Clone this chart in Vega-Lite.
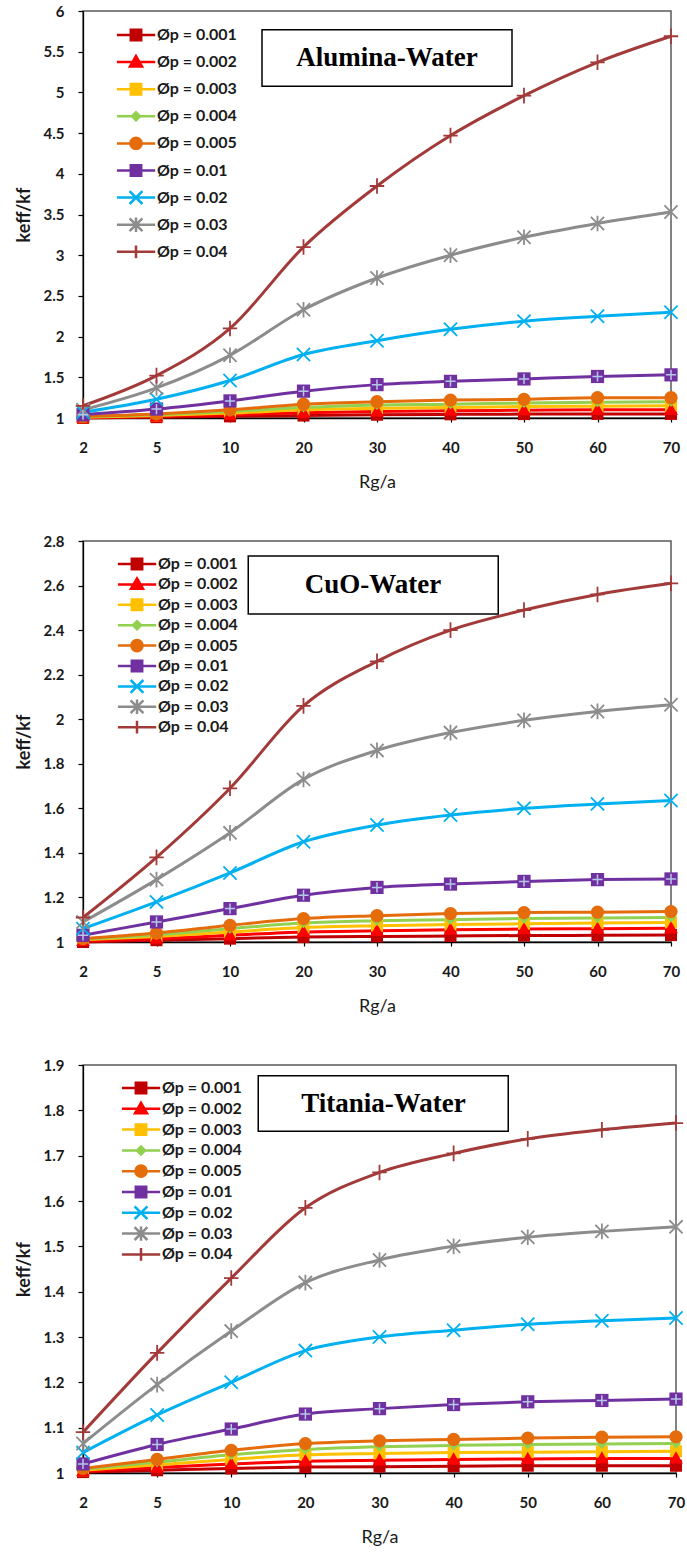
{
"$schema": "https://vega.github.io/schema/vega-lite/v6.json",
"background": "white",
"padding": {"left": 14, "top": 3, "right": 2, "bottom": 4},
"spacing": 123,
"bounds": "flush",
"datasets": {
"kr": [
{"f":"Alumina-Water","p":"0.001","r":2,"k":1.000},{"f":"Alumina-Water","p":"0.001","r":5,"k":1.010},{"f":"Alumina-Water","p":"0.001","r":10,"k":1.020},{"f":"Alumina-Water","p":"0.001","r":20,"k":1.030},{"f":"Alumina-Water","p":"0.001","r":30,"k":1.040},{"f":"Alumina-Water","p":"0.001","r":40,"k":1.045},{"f":"Alumina-Water","p":"0.001","r":50,"k":1.048},{"f":"Alumina-Water","p":"0.001","r":60,"k":1.050},{"f":"Alumina-Water","p":"0.001","r":70,"k":1.050},
{"f":"Alumina-Water","p":"0.002","r":2,"k":1.005},{"f":"Alumina-Water","p":"0.002","r":5,"k":1.020},{"f":"Alumina-Water","p":"0.002","r":10,"k":1.040},{"f":"Alumina-Water","p":"0.002","r":20,"k":1.065},{"f":"Alumina-Water","p":"0.002","r":30,"k":1.080},{"f":"Alumina-Water","p":"0.002","r":40,"k":1.090},{"f":"Alumina-Water","p":"0.002","r":50,"k":1.095},{"f":"Alumina-Water","p":"0.002","r":60,"k":1.100},{"f":"Alumina-Water","p":"0.002","r":70,"k":1.100},
{"f":"Alumina-Water","p":"0.003","r":2,"k":1.010},{"f":"Alumina-Water","p":"0.003","r":5,"k":1.030},{"f":"Alumina-Water","p":"0.003","r":10,"k":1.060},{"f":"Alumina-Water","p":"0.003","r":20,"k":1.100},{"f":"Alumina-Water","p":"0.003","r":30,"k":1.120},{"f":"Alumina-Water","p":"0.003","r":40,"k":1.130},{"f":"Alumina-Water","p":"0.003","r":50,"k":1.140},{"f":"Alumina-Water","p":"0.003","r":60,"k":1.145},{"f":"Alumina-Water","p":"0.003","r":70,"k":1.150},
{"f":"Alumina-Water","p":"0.004","r":2,"k":1.015},{"f":"Alumina-Water","p":"0.004","r":5,"k":1.040},{"f":"Alumina-Water","p":"0.004","r":10,"k":1.080},{"f":"Alumina-Water","p":"0.004","r":20,"k":1.130},{"f":"Alumina-Water","p":"0.004","r":30,"k":1.160},{"f":"Alumina-Water","p":"0.004","r":40,"k":1.170},{"f":"Alumina-Water","p":"0.004","r":50,"k":1.185},{"f":"Alumina-Water","p":"0.004","r":60,"k":1.195},{"f":"Alumina-Water","p":"0.004","r":70,"k":1.200},
{"f":"Alumina-Water","p":"0.005","r":2,"k":1.020},{"f":"Alumina-Water","p":"0.005","r":5,"k":1.050},{"f":"Alumina-Water","p":"0.005","r":10,"k":1.100},{"f":"Alumina-Water","p":"0.005","r":20,"k":1.170},{"f":"Alumina-Water","p":"0.005","r":30,"k":1.200},{"f":"Alumina-Water","p":"0.005","r":40,"k":1.220},{"f":"Alumina-Water","p":"0.005","r":50,"k":1.230},{"f":"Alumina-Water","p":"0.005","r":60,"k":1.250},{"f":"Alumina-Water","p":"0.005","r":70,"k":1.250},
{"f":"Alumina-Water","p":"0.01","r":2,"k":1.040},{"f":"Alumina-Water","p":"0.01","r":5,"k":1.110},{"f":"Alumina-Water","p":"0.01","r":10,"k":1.210},{"f":"Alumina-Water","p":"0.01","r":20,"k":1.330},{"f":"Alumina-Water","p":"0.01","r":30,"k":1.410},{"f":"Alumina-Water","p":"0.01","r":40,"k":1.450},{"f":"Alumina-Water","p":"0.01","r":50,"k":1.480},{"f":"Alumina-Water","p":"0.01","r":60,"k":1.510},{"f":"Alumina-Water","p":"0.01","r":70,"k":1.530},
{"f":"Alumina-Water","p":"0.02","r":2,"k":1.070},{"f":"Alumina-Water","p":"0.02","r":5,"k":1.230},{"f":"Alumina-Water","p":"0.02","r":10,"k":1.460},{"f":"Alumina-Water","p":"0.02","r":20,"k":1.780},{"f":"Alumina-Water","p":"0.02","r":30,"k":1.950},{"f":"Alumina-Water","p":"0.02","r":40,"k":2.090},{"f":"Alumina-Water","p":"0.02","r":50,"k":2.190},{"f":"Alumina-Water","p":"0.02","r":60,"k":2.250},{"f":"Alumina-Water","p":"0.02","r":70,"k":2.300},
{"f":"Alumina-Water","p":"0.03","r":2,"k":1.100},{"f":"Alumina-Water","p":"0.03","r":5,"k":1.370},{"f":"Alumina-Water","p":"0.03","r":10,"k":1.770},{"f":"Alumina-Water","p":"0.03","r":20,"k":2.330},{"f":"Alumina-Water","p":"0.03","r":30,"k":2.720},{"f":"Alumina-Water","p":"0.03","r":40,"k":3.000},{"f":"Alumina-Water","p":"0.03","r":50,"k":3.220},{"f":"Alumina-Water","p":"0.03","r":60,"k":3.390},{"f":"Alumina-Water","p":"0.03","r":70,"k":3.530},
{"f":"Alumina-Water","p":"0.04","r":2,"k":1.150},{"f":"Alumina-Water","p":"0.04","r":5,"k":1.520},{"f":"Alumina-Water","p":"0.04","r":10,"k":2.100},{"f":"Alumina-Water","p":"0.04","r":20,"k":3.100},{"f":"Alumina-Water","p":"0.04","r":30,"k":3.850},{"f":"Alumina-Water","p":"0.04","r":40,"k":4.470},{"f":"Alumina-Water","p":"0.04","r":50,"k":4.960},{"f":"Alumina-Water","p":"0.04","r":60,"k":5.370},{"f":"Alumina-Water","p":"0.04","r":70,"k":5.690},
{"f":"CuO-Water","p":"0.001","r":2,"k":1.000},{"f":"CuO-Water","p":"0.001","r":5,"k":1.008},{"f":"CuO-Water","p":"0.001","r":10,"k":1.015},{"f":"CuO-Water","p":"0.001","r":20,"k":1.022},{"f":"CuO-Water","p":"0.001","r":30,"k":1.025},{"f":"CuO-Water","p":"0.001","r":40,"k":1.027},{"f":"CuO-Water","p":"0.001","r":50,"k":1.029},{"f":"CuO-Water","p":"0.001","r":60,"k":1.030},{"f":"CuO-Water","p":"0.001","r":70,"k":1.031},
{"f":"CuO-Water","p":"0.002","r":2,"k":1.005},{"f":"CuO-Water","p":"0.002","r":5,"k":1.015},{"f":"CuO-Water","p":"0.002","r":10,"k":1.030},{"f":"CuO-Water","p":"0.002","r":20,"k":1.045},{"f":"CuO-Water","p":"0.002","r":30,"k":1.050},{"f":"CuO-Water","p":"0.002","r":40,"k":1.055},{"f":"CuO-Water","p":"0.002","r":50,"k":1.058},{"f":"CuO-Water","p":"0.002","r":60,"k":1.060},{"f":"CuO-Water","p":"0.002","r":70,"k":1.062},
{"f":"CuO-Water","p":"0.003","r":2,"k":1.010},{"f":"CuO-Water","p":"0.003","r":5,"k":1.025},{"f":"CuO-Water","p":"0.003","r":10,"k":1.045},{"f":"CuO-Water","p":"0.003","r":20,"k":1.065},{"f":"CuO-Water","p":"0.003","r":30,"k":1.073},{"f":"CuO-Water","p":"0.003","r":40,"k":1.078},{"f":"CuO-Water","p":"0.003","r":50,"k":1.082},{"f":"CuO-Water","p":"0.003","r":60,"k":1.085},{"f":"CuO-Water","p":"0.003","r":70,"k":1.088},
{"f":"CuO-Water","p":"0.004","r":2,"k":1.012},{"f":"CuO-Water","p":"0.004","r":5,"k":1.032},{"f":"CuO-Water","p":"0.004","r":10,"k":1.060},{"f":"CuO-Water","p":"0.004","r":20,"k":1.085},{"f":"CuO-Water","p":"0.004","r":30,"k":1.095},{"f":"CuO-Water","p":"0.004","r":40,"k":1.100},{"f":"CuO-Water","p":"0.004","r":50,"k":1.105},{"f":"CuO-Water","p":"0.004","r":60,"k":1.108},{"f":"CuO-Water","p":"0.004","r":70,"k":1.110},
{"f":"CuO-Water","p":"0.005","r":2,"k":1.015},{"f":"CuO-Water","p":"0.005","r":5,"k":1.040},{"f":"CuO-Water","p":"0.005","r":10,"k":1.075},{"f":"CuO-Water","p":"0.005","r":20,"k":1.105},{"f":"CuO-Water","p":"0.005","r":30,"k":1.118},{"f":"CuO-Water","p":"0.005","r":40,"k":1.128},{"f":"CuO-Water","p":"0.005","r":50,"k":1.132},{"f":"CuO-Water","p":"0.005","r":60,"k":1.134},{"f":"CuO-Water","p":"0.005","r":70,"k":1.137},
{"f":"CuO-Water","p":"0.01","r":2,"k":1.030},{"f":"CuO-Water","p":"0.01","r":5,"k":1.090},{"f":"CuO-Water","p":"0.01","r":10,"k":1.150},{"f":"CuO-Water","p":"0.01","r":20,"k":1.210},{"f":"CuO-Water","p":"0.01","r":30,"k":1.245},{"f":"CuO-Water","p":"0.01","r":40,"k":1.260},{"f":"CuO-Water","p":"0.01","r":50,"k":1.272},{"f":"CuO-Water","p":"0.01","r":60,"k":1.280},{"f":"CuO-Water","p":"0.01","r":70,"k":1.283},
{"f":"CuO-Water","p":"0.02","r":2,"k":1.060},{"f":"CuO-Water","p":"0.02","r":5,"k":1.180},{"f":"CuO-Water","p":"0.02","r":10,"k":1.310},{"f":"CuO-Water","p":"0.02","r":20,"k":1.450},{"f":"CuO-Water","p":"0.02","r":30,"k":1.525},{"f":"CuO-Water","p":"0.02","r":40,"k":1.570},{"f":"CuO-Water","p":"0.02","r":50,"k":1.600},{"f":"CuO-Water","p":"0.02","r":60,"k":1.620},{"f":"CuO-Water","p":"0.02","r":70,"k":1.635},
{"f":"CuO-Water","p":"0.03","r":2,"k":1.090},{"f":"CuO-Water","p":"0.03","r":5,"k":1.280},{"f":"CuO-Water","p":"0.03","r":10,"k":1.490},{"f":"CuO-Water","p":"0.03","r":20,"k":1.730},{"f":"CuO-Water","p":"0.03","r":30,"k":1.860},{"f":"CuO-Water","p":"0.03","r":40,"k":1.940},{"f":"CuO-Water","p":"0.03","r":50,"k":1.995},{"f":"CuO-Water","p":"0.03","r":60,"k":2.035},{"f":"CuO-Water","p":"0.03","r":70,"k":2.065},
{"f":"CuO-Water","p":"0.04","r":2,"k":1.110},{"f":"CuO-Water","p":"0.04","r":5,"k":1.380},{"f":"CuO-Water","p":"0.04","r":10,"k":1.690},{"f":"CuO-Water","p":"0.04","r":20,"k":2.060},{"f":"CuO-Water","p":"0.04","r":30,"k":2.260},{"f":"CuO-Water","p":"0.04","r":40,"k":2.400},{"f":"CuO-Water","p":"0.04","r":50,"k":2.490},{"f":"CuO-Water","p":"0.04","r":60,"k":2.560},{"f":"CuO-Water","p":"0.04","r":70,"k":2.610},
{"f":"Titania-Water","p":"0.001","r":2,"k":1.002},{"f":"Titania-Water","p":"0.001","r":5,"k":1.006},{"f":"Titania-Water","p":"0.001","r":10,"k":1.010},{"f":"Titania-Water","p":"0.001","r":20,"k":1.013},{"f":"Titania-Water","p":"0.001","r":30,"k":1.014},{"f":"Titania-Water","p":"0.001","r":40,"k":1.015},{"f":"Titania-Water","p":"0.001","r":50,"k":1.016},{"f":"Titania-Water","p":"0.001","r":60,"k":1.016},{"f":"Titania-Water","p":"0.001","r":70,"k":1.016},
{"f":"Titania-Water","p":"0.002","r":2,"k":1.004},{"f":"Titania-Water","p":"0.002","r":5,"k":1.012},{"f":"Titania-Water","p":"0.002","r":10,"k":1.020},{"f":"Titania-Water","p":"0.002","r":20,"k":1.026},{"f":"Titania-Water","p":"0.002","r":30,"k":1.028},{"f":"Titania-Water","p":"0.002","r":40,"k":1.030},{"f":"Titania-Water","p":"0.002","r":50,"k":1.031},{"f":"Titania-Water","p":"0.002","r":60,"k":1.032},{"f":"Titania-Water","p":"0.002","r":70,"k":1.032},
{"f":"Titania-Water","p":"0.003","r":2,"k":1.006},{"f":"Titania-Water","p":"0.003","r":5,"k":1.018},{"f":"Titania-Water","p":"0.003","r":10,"k":1.030},{"f":"Titania-Water","p":"0.003","r":20,"k":1.040},{"f":"Titania-Water","p":"0.003","r":30,"k":1.043},{"f":"Titania-Water","p":"0.003","r":40,"k":1.045},{"f":"Titania-Water","p":"0.003","r":50,"k":1.046},{"f":"Titania-Water","p":"0.003","r":60,"k":1.047},{"f":"Titania-Water","p":"0.003","r":70,"k":1.048},
{"f":"Titania-Water","p":"0.004","r":2,"k":1.008},{"f":"Titania-Water","p":"0.004","r":5,"k":1.024},{"f":"Titania-Water","p":"0.004","r":10,"k":1.040},{"f":"Titania-Water","p":"0.004","r":20,"k":1.052},{"f":"Titania-Water","p":"0.004","r":30,"k":1.058},{"f":"Titania-Water","p":"0.004","r":40,"k":1.061},{"f":"Titania-Water","p":"0.004","r":50,"k":1.063},{"f":"Titania-Water","p":"0.004","r":60,"k":1.064},{"f":"Titania-Water","p":"0.004","r":70,"k":1.065},
{"f":"Titania-Water","p":"0.005","r":2,"k":1.010},{"f":"Titania-Water","p":"0.005","r":5,"k":1.030},{"f":"Titania-Water","p":"0.005","r":10,"k":1.050},{"f":"Titania-Water","p":"0.005","r":20,"k":1.065},{"f":"Titania-Water","p":"0.005","r":30,"k":1.071},{"f":"Titania-Water","p":"0.005","r":40,"k":1.074},{"f":"Titania-Water","p":"0.005","r":50,"k":1.077},{"f":"Titania-Water","p":"0.005","r":60,"k":1.079},{"f":"Titania-Water","p":"0.005","r":70,"k":1.080},
{"f":"Titania-Water","p":"0.01","r":2,"k":1.020},{"f":"Titania-Water","p":"0.01","r":5,"k":1.063},{"f":"Titania-Water","p":"0.01","r":10,"k":1.097},{"f":"Titania-Water","p":"0.01","r":20,"k":1.130},{"f":"Titania-Water","p":"0.01","r":30,"k":1.142},{"f":"Titania-Water","p":"0.01","r":40,"k":1.151},{"f":"Titania-Water","p":"0.01","r":50,"k":1.157},{"f":"Titania-Water","p":"0.01","r":60,"k":1.160},{"f":"Titania-Water","p":"0.01","r":70,"k":1.163},
{"f":"Titania-Water","p":"0.02","r":2,"k":1.045},{"f":"Titania-Water","p":"0.02","r":5,"k":1.128},{"f":"Titania-Water","p":"0.02","r":10,"k":1.200},{"f":"Titania-Water","p":"0.02","r":20,"k":1.270},{"f":"Titania-Water","p":"0.02","r":30,"k":1.300},{"f":"Titania-Water","p":"0.02","r":40,"k":1.315},{"f":"Titania-Water","p":"0.02","r":50,"k":1.328},{"f":"Titania-Water","p":"0.02","r":60,"k":1.336},{"f":"Titania-Water","p":"0.02","r":70,"k":1.342},
{"f":"Titania-Water","p":"0.03","r":2,"k":1.065},{"f":"Titania-Water","p":"0.03","r":5,"k":1.195},{"f":"Titania-Water","p":"0.03","r":10,"k":1.313},{"f":"Titania-Water","p":"0.03","r":20,"k":1.420},{"f":"Titania-Water","p":"0.03","r":30,"k":1.470},{"f":"Titania-Water","p":"0.03","r":40,"k":1.500},{"f":"Titania-Water","p":"0.03","r":50,"k":1.520},{"f":"Titania-Water","p":"0.03","r":60,"k":1.533},{"f":"Titania-Water","p":"0.03","r":70,"k":1.543},
{"f":"Titania-Water","p":"0.04","r":2,"k":1.090},{"f":"Titania-Water","p":"0.04","r":5,"k":1.265},{"f":"Titania-Water","p":"0.04","r":10,"k":1.430},{"f":"Titania-Water","p":"0.04","r":20,"k":1.585},{"f":"Titania-Water","p":"0.04","r":30,"k":1.663},{"f":"Titania-Water","p":"0.04","r":40,"k":1.705},{"f":"Titania-Water","p":"0.04","r":50,"k":1.737},{"f":"Titania-Water","p":"0.04","r":60,"k":1.757},{"f":"Titania-Water","p":"0.04","r":70,"k":1.772}
],
"boxes": [
{"f":"Alumina-Water","r":30,"k":5.422},
{"f":"CuO-Water","r":30,"k":2.602},
{"f":"Titania-Water","r":30,"k":1.815}
]
},
"resolve": {"scale": {"color": "independent", "x": "independent", "y": "independent"}, "legend": {"color": "independent"}},
"vconcat": [
{
"width": 588, "height": 407,
"encoding": {
"x": {"field": "r", "type": "ordinal", "scale": {"type": "point", "padding": 0, "domain": [2,5,10,20,30,40,50,60,70]}, "axis": {"title": "Rg/a"}},
"y": {"field": "k", "type": "quantitative", "scale": {"domain": [1,6], "nice": false, "zero": false}, "axis": {"values": [1,1.5,2,2.5,3,3.5,4,4.5,5,5.5,6], "format": "~g", "title": "keff/kf"}}
},
"layer": [
{"data": {"name": "kr"}, "transform": [{"filter": "datum.f == 'Alumina-Water'"}],
 "mark": {"type": "line", "strokeWidth": 3, "interpolate": "monotone"},
 "encoding": {"color": {"field": "p", "type": "nominal", "scale": {"domain": ["0.001","0.002","0.003","0.004","0.005","0.01","0.02","0.03","0.04"], "range": ["#C00000","#FF0000","#FFC000","#92D050","#E46C0A","#7030A0","#00B0F0","#8C8C8C","#A33A3A"]},
  "legend": {"orient": "none", "legendX": 33.5, "legendY": 13, "clipHeight": 22, "rowPadding": 5.1, "symbolOffset": 10, "labelOffset": 11.5, "title": null, "labelExpr": "'Øp = ' + datum.label", "encode": {"symbols": {"update": {
   "shape": {"signal": "['M-2.4,0H2.4M-0.65,-0.65H0.65V0.65H-0.65Z','M-2.4,0H2.4M0,-0.75L0.75,0.55H-0.75Z','M-2.4,0H2.4M-0.65,-0.65H0.65V0.65H-0.65Z','M-2.4,0H2.4M0,-0.5L0.5,0L0,0.5L-0.5,0Z','M-2.4,0H2.4M-0.7,0A0.7,0.7,0,1,0,0.7,0A0.7,0.7,0,1,0,-0.7,0Z','M-2.4,0H2.4M-0.65,-0.65H0.65V0.65H-0.65Z','M-2.4,0H2.4M-0.8,-0.8L0.8,0.8M-0.8,0.8L0.8,-0.8','M-2.4,0H2.4M-0.8,-0.8L0.8,0.8M-0.8,0.8L0.8,-0.8M0,-0.9V0.9','M-2.4,0H2.4M0,-0.8V0.8'][indexof(['0.001','0.002','0.003','0.004','0.005','0.01','0.02','0.03','0.04'], datum.value)]"},
   "fill": {"signal": "['#C00000','#FF0000','#FFC000','#92D050','#E46C0A','#7030A0','#00B0F0','#8C8C8C','#A33A3A'][indexof(['0.001','0.002','0.003','0.004','0.005','0.01','0.02','0.03','0.04'], datum.value)]"},
   "stroke": {"signal": "['#C00000','#FF0000','#FFC000','#92D050','#E46C0A','#7030A0','#00B0F0','#8C8C8C','#A33A3A'][indexof(['0.001','0.002','0.003','0.004','0.005','0.01','0.02','0.03','0.04'], datum.value)]"},
   "strokeWidth": {"value": 2.5}, "opacity": {"value": 1}}}}}}}},
{"data": {"name": "kr"}, "transform": [{"filter": "datum.f == 'Alumina-Water' && (datum.p == '0.001' || datum.p == '0.003')"}],
 "mark": {"type": "point", "filled": true, "opacity": 1, "size": 144, "shape": "M-1,-1H1V1H-1Z"}, "encoding": {"color": {"field": "p", "type": "nominal", "legend": null}}},
{"data": {"name": "kr"}, "transform": [{"filter": "datum.f == 'Alumina-Water' && datum.p == '0.002'"}],
 "mark": {"type": "point", "filled": true, "opacity": 1, "size": 144, "shape": "M0,-1.2L1.15,0.85H-1.15Z"}, "encoding": {"color": {"field": "p", "type": "nominal", "legend": null}}},
{"data": {"name": "kr"}, "transform": [{"filter": "datum.f == 'Alumina-Water' && datum.p == '0.004'"}],
 "mark": {"type": "point", "filled": true, "opacity": 1, "size": 144, "shape": "M0,-0.85L0.85,0L0,0.85L-0.85,0Z"}, "encoding": {"color": {"field": "p", "type": "nominal", "legend": null}}},
{"data": {"name": "kr"}, "transform": [{"filter": "datum.f == 'Alumina-Water' && datum.p == '0.005'"}],
 "mark": {"type": "point", "filled": true, "opacity": 1, "size": 144, "shape": "M-1.1,0A1.1,1.1,0,1,0,1.1,0A1.1,1.1,0,1,0,-1.1,0Z"}, "encoding": {"color": {"field": "p", "type": "nominal", "legend": null}}},
{"data": {"name": "kr"}, "transform": [{"filter": "datum.f == 'Alumina-Water' && datum.p == '0.01'"}],
 "mark": {"type": "point", "filled": true, "opacity": 1, "size": 144, "shape": "M-1.1,-1.1H1.1V1.1H-1.1Z"}, "encoding": {"color": {"field": "p", "type": "nominal", "legend": null}}},
{"data": {"name": "kr"}, "transform": [{"filter": "datum.f == 'Alumina-Water' && datum.p == '0.02'"}],
 "mark": {"type": "point", "filled": false, "opacity": 1, "size": 144, "strokeWidth": 1.8, "shape": "M-1.1,-1.1L1.1,1.1M-1.1,1.1L1.1,-1.1"}, "encoding": {"color": {"field": "p", "type": "nominal", "legend": null}}},
{"data": {"name": "kr"}, "transform": [{"filter": "datum.f == 'Alumina-Water' && datum.p == '0.03'"}],
 "mark": {"type": "point", "filled": false, "opacity": 1, "size": 144, "strokeWidth": 1.8, "shape": "M-1.1,-1.1L1.1,1.1M-1.1,1.1L1.1,-1.1M0,-1.3V1.3"}, "encoding": {"color": {"field": "p", "type": "nominal", "legend": null}}},
{"data": {"name": "kr"}, "transform": [{"filter": "datum.f == 'Alumina-Water' && datum.p == '0.04'"}],
 "mark": {"type": "point", "filled": false, "opacity": 1, "size": 144, "strokeWidth": 1.8, "shape": "M-1.2,0H1.2M0,-1.3V1.3"}, "encoding": {"color": {"field": "p", "type": "nominal", "legend": null}}},
{"data": {"name": "kr"}, "transform": [{"filter": "datum.f == 'Alumina-Water' && datum.p == '0.01'"}],
 "mark": {"type": "point", "filled": false, "opacity": 1, "size": 144, "strokeWidth": 1.5, "color": "#B4C7E7", "shape": "M-0.85,0H0.85M0,-0.85V0.85"}},
{"data": {"name": "boxes"}, "transform": [{"filter": "datum.f == 'Alumina-Water'"}],
 "mark": {"type": "point", "shape": "M-0.92,-0.226H1.08V0.226H-0.92Z", "size": 62500, "filled": true, "fill": "white", "stroke": "black", "strokeWidth": 1.5, "opacity": 1}},
{"data": {"name": "boxes"}, "transform": [{"filter": "datum.f == 'Alumina-Water'"}],
 "mark": {"type": "text", "font": "Liberation Serif", "fontWeight": "bold", "fontSize": 27, "color": "#000000", "dx": 10},
 "encoding": {"text": {"field": "f"}}}
]
},
{
"width": 588, "height": 401,
"encoding": {
"x": {"field": "r", "type": "ordinal", "scale": {"type": "point", "padding": 0, "domain": [2,5,10,20,30,40,50,60,70]}, "axis": {"title": "Rg/a"}},
"y": {"field": "k", "type": "quantitative", "scale": {"domain": [1,2.8], "nice": false, "zero": false}, "axis": {"values": [1,1.2,1.4,1.6,1.8,2,2.2,2.4,2.6,2.8], "format": "~g", "title": "keff/kf"}}
},
"layer": [
{"data": {"name": "kr"}, "transform": [{"filter": "datum.f == 'CuO-Water'"}],
 "mark": {"type": "line", "strokeWidth": 3, "interpolate": "monotone"},
 "encoding": {"color": {"field": "p", "type": "nominal", "scale": {"domain": ["0.001","0.002","0.003","0.004","0.005","0.01","0.02","0.03","0.04"], "range": ["#C00000","#FF0000","#FFC000","#92D050","#E46C0A","#7030A0","#00B0F0","#8C8C8C","#A33A3A"]},
  "legend": {"orient": "none", "legendX": 34.5, "legendY": 13, "clipHeight": 20, "rowPadding": 0.4, "symbolOffset": 10, "labelOffset": 11.5, "title": null, "labelExpr": "'Øp = ' + datum.label", "encode": {"symbols": {"update": {
   "shape": {"signal": "['M-2.4,0H2.4M-0.65,-0.65H0.65V0.65H-0.65Z','M-2.4,0H2.4M0,-0.75L0.75,0.55H-0.75Z','M-2.4,0H2.4M-0.65,-0.65H0.65V0.65H-0.65Z','M-2.4,0H2.4M0,-0.5L0.5,0L0,0.5L-0.5,0Z','M-2.4,0H2.4M-0.7,0A0.7,0.7,0,1,0,0.7,0A0.7,0.7,0,1,0,-0.7,0Z','M-2.4,0H2.4M-0.65,-0.65H0.65V0.65H-0.65Z','M-2.4,0H2.4M-0.8,-0.8L0.8,0.8M-0.8,0.8L0.8,-0.8','M-2.4,0H2.4M-0.8,-0.8L0.8,0.8M-0.8,0.8L0.8,-0.8M0,-0.9V0.9','M-2.4,0H2.4M0,-0.8V0.8'][indexof(['0.001','0.002','0.003','0.004','0.005','0.01','0.02','0.03','0.04'], datum.value)]"},
   "fill": {"signal": "['#C00000','#FF0000','#FFC000','#92D050','#E46C0A','#7030A0','#00B0F0','#8C8C8C','#A33A3A'][indexof(['0.001','0.002','0.003','0.004','0.005','0.01','0.02','0.03','0.04'], datum.value)]"},
   "stroke": {"signal": "['#C00000','#FF0000','#FFC000','#92D050','#E46C0A','#7030A0','#00B0F0','#8C8C8C','#A33A3A'][indexof(['0.001','0.002','0.003','0.004','0.005','0.01','0.02','0.03','0.04'], datum.value)]"},
   "strokeWidth": {"value": 2.5}, "opacity": {"value": 1}}}}}}}},
{"data": {"name": "kr"}, "transform": [{"filter": "datum.f == 'CuO-Water' && (datum.p == '0.001' || datum.p == '0.003')"}],
 "mark": {"type": "point", "filled": true, "opacity": 1, "size": 144, "shape": "M-1,-1H1V1H-1Z"}, "encoding": {"color": {"field": "p", "type": "nominal", "legend": null}}},
{"data": {"name": "kr"}, "transform": [{"filter": "datum.f == 'CuO-Water' && datum.p == '0.002'"}],
 "mark": {"type": "point", "filled": true, "opacity": 1, "size": 144, "shape": "M0,-1.2L1.15,0.85H-1.15Z"}, "encoding": {"color": {"field": "p", "type": "nominal", "legend": null}}},
{"data": {"name": "kr"}, "transform": [{"filter": "datum.f == 'CuO-Water' && datum.p == '0.004'"}],
 "mark": {"type": "point", "filled": true, "opacity": 1, "size": 144, "shape": "M0,-0.85L0.85,0L0,0.85L-0.85,0Z"}, "encoding": {"color": {"field": "p", "type": "nominal", "legend": null}}},
{"data": {"name": "kr"}, "transform": [{"filter": "datum.f == 'CuO-Water' && datum.p == '0.005'"}],
 "mark": {"type": "point", "filled": true, "opacity": 1, "size": 144, "shape": "M-1.1,0A1.1,1.1,0,1,0,1.1,0A1.1,1.1,0,1,0,-1.1,0Z"}, "encoding": {"color": {"field": "p", "type": "nominal", "legend": null}}},
{"data": {"name": "kr"}, "transform": [{"filter": "datum.f == 'CuO-Water' && datum.p == '0.01'"}],
 "mark": {"type": "point", "filled": true, "opacity": 1, "size": 144, "shape": "M-1.1,-1.1H1.1V1.1H-1.1Z"}, "encoding": {"color": {"field": "p", "type": "nominal", "legend": null}}},
{"data": {"name": "kr"}, "transform": [{"filter": "datum.f == 'CuO-Water' && datum.p == '0.02'"}],
 "mark": {"type": "point", "filled": false, "opacity": 1, "size": 144, "strokeWidth": 1.8, "shape": "M-1.1,-1.1L1.1,1.1M-1.1,1.1L1.1,-1.1"}, "encoding": {"color": {"field": "p", "type": "nominal", "legend": null}}},
{"data": {"name": "kr"}, "transform": [{"filter": "datum.f == 'CuO-Water' && datum.p == '0.03'"}],
 "mark": {"type": "point", "filled": false, "opacity": 1, "size": 144, "strokeWidth": 1.8, "shape": "M-1.1,-1.1L1.1,1.1M-1.1,1.1L1.1,-1.1M0,-1.3V1.3"}, "encoding": {"color": {"field": "p", "type": "nominal", "legend": null}}},
{"data": {"name": "kr"}, "transform": [{"filter": "datum.f == 'CuO-Water' && datum.p == '0.04'"}],
 "mark": {"type": "point", "filled": false, "opacity": 1, "size": 144, "strokeWidth": 1.8, "shape": "M-1.2,0H1.2M0,-1.3V1.3"}, "encoding": {"color": {"field": "p", "type": "nominal", "legend": null}}},
{"data": {"name": "kr"}, "transform": [{"filter": "datum.f == 'CuO-Water' && datum.p == '0.01'"}],
 "mark": {"type": "point", "filled": false, "opacity": 1, "size": 144, "strokeWidth": 1.5, "color": "#B4C7E7", "shape": "M-0.85,0H0.85M0,-0.85V0.85"}},
{"data": {"name": "boxes"}, "transform": [{"filter": "datum.f == 'CuO-Water'"}],
 "mark": {"type": "point", "shape": "M-1.03,-0.232H0.97V0.232H-1.03Z", "size": 62500, "filled": true, "fill": "white", "stroke": "black", "strokeWidth": 1.5, "opacity": 1}},
{"data": {"name": "boxes"}, "transform": [{"filter": "datum.f == 'CuO-Water'"}],
 "mark": {"type": "text", "font": "Liberation Serif", "fontWeight": "bold", "fontSize": 27, "color": "#000000", "dx": -4},
 "encoding": {"text": {"field": "f"}}}
]
},
{
"width": 593, "height": 408,
"encoding": {
"x": {"field": "r", "type": "ordinal", "scale": {"type": "point", "padding": 0, "domain": [2,5,10,20,30,40,50,60,70]}, "axis": {"title": "Rg/a"}},
"y": {"field": "k", "type": "quantitative", "scale": {"domain": [1,1.9], "nice": false, "zero": false}, "axis": {"values": [1,1.1,1.2,1.3,1.4,1.5,1.6,1.7,1.8,1.9], "format": "~g", "title": "keff/kf"}}
},
"layer": [
{"data": {"name": "kr"}, "transform": [{"filter": "datum.f == 'Titania-Water'"}],
 "mark": {"type": "line", "strokeWidth": 3, "interpolate": "monotone"},
 "encoding": {"color": {"field": "p", "type": "nominal", "scale": {"domain": ["0.001","0.002","0.003","0.004","0.005","0.01","0.02","0.03","0.04"], "range": ["#C00000","#FF0000","#FFC000","#92D050","#E46C0A","#7030A0","#00B0F0","#8C8C8C","#A33A3A"]},
  "legend": {"orient": "none", "legendX": 38.5, "legendY": 13, "clipHeight": 20, "rowPadding": 0.8, "symbolOffset": 10, "labelOffset": 11.5, "title": null, "labelExpr": "'Øp = ' + datum.label", "encode": {"symbols": {"update": {
   "shape": {"signal": "['M-2.4,0H2.4M-0.65,-0.65H0.65V0.65H-0.65Z','M-2.4,0H2.4M0,-0.75L0.75,0.55H-0.75Z','M-2.4,0H2.4M-0.65,-0.65H0.65V0.65H-0.65Z','M-2.4,0H2.4M0,-0.5L0.5,0L0,0.5L-0.5,0Z','M-2.4,0H2.4M-0.7,0A0.7,0.7,0,1,0,0.7,0A0.7,0.7,0,1,0,-0.7,0Z','M-2.4,0H2.4M-0.65,-0.65H0.65V0.65H-0.65Z','M-2.4,0H2.4M-0.8,-0.8L0.8,0.8M-0.8,0.8L0.8,-0.8','M-2.4,0H2.4M-0.8,-0.8L0.8,0.8M-0.8,0.8L0.8,-0.8M0,-0.9V0.9','M-2.4,0H2.4M0,-0.8V0.8'][indexof(['0.001','0.002','0.003','0.004','0.005','0.01','0.02','0.03','0.04'], datum.value)]"},
   "fill": {"signal": "['#C00000','#FF0000','#FFC000','#92D050','#E46C0A','#7030A0','#00B0F0','#8C8C8C','#A33A3A'][indexof(['0.001','0.002','0.003','0.004','0.005','0.01','0.02','0.03','0.04'], datum.value)]"},
   "stroke": {"signal": "['#C00000','#FF0000','#FFC000','#92D050','#E46C0A','#7030A0','#00B0F0','#8C8C8C','#A33A3A'][indexof(['0.001','0.002','0.003','0.004','0.005','0.01','0.02','0.03','0.04'], datum.value)]"},
   "strokeWidth": {"value": 2.5}, "opacity": {"value": 1}}}}}}}},
{"data": {"name": "kr"}, "transform": [{"filter": "datum.f == 'Titania-Water' && (datum.p == '0.001' || datum.p == '0.003')"}],
 "mark": {"type": "point", "filled": true, "opacity": 1, "size": 144, "shape": "M-1,-1H1V1H-1Z"}, "encoding": {"color": {"field": "p", "type": "nominal", "legend": null}}},
{"data": {"name": "kr"}, "transform": [{"filter": "datum.f == 'Titania-Water' && datum.p == '0.002'"}],
 "mark": {"type": "point", "filled": true, "opacity": 1, "size": 144, "shape": "M0,-1.2L1.15,0.85H-1.15Z"}, "encoding": {"color": {"field": "p", "type": "nominal", "legend": null}}},
{"data": {"name": "kr"}, "transform": [{"filter": "datum.f == 'Titania-Water' && datum.p == '0.004'"}],
 "mark": {"type": "point", "filled": true, "opacity": 1, "size": 144, "shape": "M0,-0.85L0.85,0L0,0.85L-0.85,0Z"}, "encoding": {"color": {"field": "p", "type": "nominal", "legend": null}}},
{"data": {"name": "kr"}, "transform": [{"filter": "datum.f == 'Titania-Water' && datum.p == '0.005'"}],
 "mark": {"type": "point", "filled": true, "opacity": 1, "size": 144, "shape": "M-1.1,0A1.1,1.1,0,1,0,1.1,0A1.1,1.1,0,1,0,-1.1,0Z"}, "encoding": {"color": {"field": "p", "type": "nominal", "legend": null}}},
{"data": {"name": "kr"}, "transform": [{"filter": "datum.f == 'Titania-Water' && datum.p == '0.01'"}],
 "mark": {"type": "point", "filled": true, "opacity": 1, "size": 144, "shape": "M-1.1,-1.1H1.1V1.1H-1.1Z"}, "encoding": {"color": {"field": "p", "type": "nominal", "legend": null}}},
{"data": {"name": "kr"}, "transform": [{"filter": "datum.f == 'Titania-Water' && datum.p == '0.02'"}],
 "mark": {"type": "point", "filled": false, "opacity": 1, "size": 144, "strokeWidth": 1.8, "shape": "M-1.1,-1.1L1.1,1.1M-1.1,1.1L1.1,-1.1"}, "encoding": {"color": {"field": "p", "type": "nominal", "legend": null}}},
{"data": {"name": "kr"}, "transform": [{"filter": "datum.f == 'Titania-Water' && datum.p == '0.03'"}],
 "mark": {"type": "point", "filled": false, "opacity": 1, "size": 144, "strokeWidth": 1.8, "shape": "M-1.1,-1.1L1.1,1.1M-1.1,1.1L1.1,-1.1M0,-1.3V1.3"}, "encoding": {"color": {"field": "p", "type": "nominal", "legend": null}}},
{"data": {"name": "kr"}, "transform": [{"filter": "datum.f == 'Titania-Water' && datum.p == '0.04'"}],
 "mark": {"type": "point", "filled": false, "opacity": 1, "size": 144, "strokeWidth": 1.8, "shape": "M-1.2,0H1.2M0,-1.3V1.3"}, "encoding": {"color": {"field": "p", "type": "nominal", "legend": null}}},
{"data": {"name": "kr"}, "transform": [{"filter": "datum.f == 'Titania-Water' && datum.p == '0.01'"}],
 "mark": {"type": "point", "filled": false, "opacity": 1, "size": 144, "strokeWidth": 1.5, "color": "#B4C7E7", "shape": "M-0.85,0H0.85M0,-0.85V0.85"}},
{"data": {"name": "boxes"}, "transform": [{"filter": "datum.f == 'Titania-Water'"}],
 "mark": {"type": "point", "shape": "M-0.97,-0.222H1.03V0.222H-0.97Z", "size": 62500, "filled": true, "fill": "white", "stroke": "black", "strokeWidth": 1.5, "opacity": 1}},
{"data": {"name": "boxes"}, "transform": [{"filter": "datum.f == 'Titania-Water'"}],
 "mark": {"type": "text", "font": "Liberation Serif", "fontWeight": "bold", "fontSize": 27, "color": "#000000", "dx": 4},
 "encoding": {"text": {"field": "f"}}}
]
}
],
"config": {
"view": {"stroke": "#595959", "strokeWidth": 1.5},
"axis": {"grid": false, "labelFont": "Lato", "labelFontWeight": "bold", "labelFontSize": 15, "labelColor": "#1a1a1a", "domainColor": "#000000", "domainWidth": 1.3, "tickColor": "#000000", "tickWidth": 1.2, "titleFont": "Lato", "titleColor": "#1a1a1a"},
"axisX": {"labelAngle": 0, "tickSize": 4, "labelPadding": 18, "titleFontSize": 18, "titleFontWeight": "normal", "titlePadding": 18},
"axisY": {"tickSize": 5, "labelPadding": 14, "titleFontSize": 18, "titleFontWeight": "bold", "titlePadding": 10},
"legend": {"labelFont": "Lato", "labelFontWeight": "bold", "labelFontSize": 16, "labelColor": "#1a1a1a", "symbolSize": 256, "symbolStrokeWidth": 2.5, "padding": 0, "symbolOpacity": 1}
}
}
